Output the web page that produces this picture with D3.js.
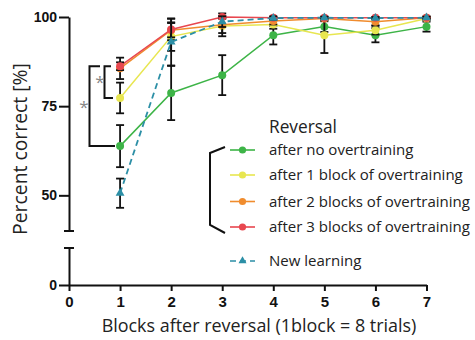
<!DOCTYPE html>
<html><head><meta charset="utf-8">
<script src="https://cdn.jsdelivr.net/npm/d3@7"></script>
<style>body{margin:0;background:#fff}svg{display:block}</style>
</head><body>
<svg id="c" width="475" height="340"></svg>
<script>
const blocks = [1,2,3,4,5,6,7];
const xTicks = [0,1,2,3,4,5,6,7];
const yTicksUpper = [50,75,100];
const yTicksLower = [0];
const noOver    = [63.8, 78.7, 83.7, 94.9, 97.3, 94.9, 97.3];
const noOverErr = [5.9, 7.6, 5.6, 2.6, 1.5, 2.0, 1.4];
const one       = [77.3, 94.5, 97.5, 97.9, 94.9, 96.3, 99.6];
const oneErr    = [4.3, 4.0, 2.0, 1.2, 5.0, 1.2, 0.5];
const two       = [85.6, 96.3, 97.8, 98.9, 99.6, 98.7, 99.8];
const twoErr    = [3.0, 2.0, 3.2, 1.0, 0.5, 1.0, 0.3];
const three     = [86.2, 96.5, 100, 99.8, 99.8, 99.8, 99.8];
const threeErr  = [1.1, 3.0, 0.3, 0.2, 0.2, 0.2, 0.2];
const newL      = [50.6, 93.0, 98.7, 99.7, 99.8, 99.7, 99.8];
const newLErr   = [4.1, 6.6, 1.5, 0.5, 0.3, 0.3, 0.3];
const legendTitle = "Reversal";
const seriesNames = ["after no overtraining","after 1 block of overtraining","after 2 blocks of overtraining","after 3 blocks of overtraining","New learning"];

const series = [
  {name:seriesNames[0], v:noOver, e:noOverErr, color:"#3db447", shape:"circle"},
  {name:seriesNames[1], v:one,    e:oneErr,    color:"#e8e650", shape:"circle"},
  {name:seriesNames[2], v:two,    e:twoErr,    color:"#f08c2e", shape:"circle"},
  {name:seriesNames[3], v:three,  e:threeErr,  color:"#e8474f", shape:"circle"},
  {name:seriesNames[4], v:newL,   e:newLErr,   color:"#2c8fa6", shape:"triangle", dash:"6,4"}
];

const svg = d3.select("#c");
const x = d3.scaleLinear().domain([0,7]).range([69,426.5]);
const yU = d3.scaleLinear().domain([40,100]).range([231,17]);
const yL = d3.scaleLinear().domain([0,10]).range([285,248]);
const y = v => v >= 40 ? yU(v) : yL(v);

const tickFont = "'Liberation Sans', Arial, sans-serif";
const textFont = "'Open Sans', 'Noto Sans', sans-serif";
const fmt = d3.format("d");

// axes
const axU = svg.append("g").attr("transform","translate(69,0)")
  .call(d3.axisLeft(yU).tickValues(yTicksUpper).tickFormat(fmt).tickSize(10).tickPadding(2).tickSizeOuter(0));
const axL = svg.append("g").attr("transform","translate(69,0)")
  .call(d3.axisLeft(yL).tickValues(yTicksLower).tickFormat(fmt).tickSize(10).tickPadding(2).tickSizeOuter(0));
const axX = svg.append("g").attr("transform","translate(0,285)")
  .call(d3.axisBottom(x).tickValues(xTicks).tickFormat(fmt).tickSize(6).tickPadding(5).tickSizeOuter(0));
[axU,axL,axX].forEach(a=>{
  a.selectAll("path,line").attr("stroke","#111").attr("stroke-width",2);
  a.selectAll("text").attr("font-family",tickFont).attr("font-weight","bold").attr("fill","#111");
});
axU.selectAll("text").attr("font-size",14);
axL.selectAll("text").attr("font-size",14);
axX.selectAll("text").attr("font-size",15);
// caps at broken ends
[yU(40), yL(10)].forEach(yy=>{
  svg.append("line").attr("x1",64).attr("x2",74).attr("y1",yy).attr("y2",yy)
    .attr("stroke","#111").attr("stroke-width",2);
});

// series
const line = d3.line().x((d,i)=>x(blocks[i])).y(d=>y(d));
series.forEach(s=>{
  const g = svg.append("g");
  g.append("path").attr("d",line(s.v)).attr("fill","none").attr("stroke",s.color)
    .attr("stroke-width",s.dash?1.8:1.5).attr("stroke-dasharray",s.dash||null);
  s.v.forEach((v,i)=>{
    const cx = x(blocks[i]), y1 = y(v+s.e[i]), y2 = y(v-s.e[i]);
    g.append("line").attr("x1",cx).attr("x2",cx).attr("y1",y1).attr("y2",y2).attr("stroke","#111").attr("stroke-width",1.8);
    [y1,y2].forEach(yy=>g.append("line").attr("x1",cx-4).attr("x2",cx+4).attr("y1",yy).attr("y2",yy).attr("stroke","#111").attr("stroke-width",1.8));
  });
  s.v.forEach((v,i)=>{
    const cx = x(blocks[i]), cy = y(v);
    if (s.shape==="circle") g.append("circle").attr("cx",cx).attr("cy",cy).attr("r",4).attr("fill",s.color);
    else g.append("path").attr("d",d3.symbol(d3.symbolTriangle,34)()).attr("transform",`translate(${cx},${cy})`).attr("fill",s.color);
  });
});

// significance brackets
const bk = (xv, yTop, yBot, armTop, armBot) => {
  svg.append("path").attr("d",`M${armTop},${yTop}H${xv}V${yBot}H${armBot}`)
    .attr("fill","none").attr("stroke","#111").attr("stroke-width",2);
};
bk(89.5, y(three[0]), y(noOver[0]), 100, 115);
bk(104.5, y(three[0]), y(one[0]), 111, 113);
svg.append("text").attr("x",84).attr("y",113).attr("text-anchor","middle").attr("font-family",textFont).attr("font-size",17).attr("fill","#888").text("*");
svg.append("text").attr("x",100).attr("y",88).attr("text-anchor","middle").attr("font-family",textFont).attr("font-size",17).attr("fill","#888").text("*");

// fit text helper
function fit(t, target){
  const fs = +t.attr("font-size");
  const w = t.node().getComputedTextLength();
  t.attr("font-size", fs*target/w);
  return fs*target/w;
}

// legend
const leg = svg.append("g");
const lt = leg.append("text").attr("x",269).attr("y",133).attr("font-family",textFont).attr("font-size",16).attr("fill","#222").text(legendTitle);
fit(lt, 68);
const rows = [150,175,201.5,227,261];
const items = series.map((s,i)=>{
  const ry = rows[i];
  leg.append("line").attr("x1",230).attr("x2",255).attr("y1",ry).attr("y2",ry).attr("stroke",s.color)
    .attr("stroke-width",1.6).attr("stroke-dasharray",s.dash?"6,4":null);
  if (s.shape==="circle") leg.append("circle").attr("cx",242.5).attr("cy",ry).attr("r",3.6).attr("fill",s.color);
  else leg.append("path").attr("d",d3.symbol(d3.symbolTriangle,28)()).attr("transform",`translate(242.5,${ry})`).attr("fill",s.color);
  return leg.append("text").attr("x",269).attr("y",ry+5).attr("font-family",textFont).attr("font-size",14).attr("fill","#222").text(s.name);
});
const lfs = fit(items[3], 201);
items.forEach(t=>t.attr("font-size",lfs));
leg.append("path").attr("d","M225,147L210,153V225L225,233").attr("fill","none").attr("stroke","#111").attr("stroke-width",2);

// axis titles
const xt = svg.append("text").attr("x",259).attr("y",332).attr("text-anchor","middle").attr("font-family",textFont).attr("font-size",16).attr("fill","#222").text("Blocks after reversal (1block = 8 trials)");
fit(xt, 315);
const yt = svg.append("text").attr("transform","translate(27,149) rotate(-90)").attr("text-anchor","middle").attr("font-family",textFont).attr("font-size",16).attr("fill","#222").text("Percent correct [%]");
fit(yt, 172);
</script>
</body></html>
